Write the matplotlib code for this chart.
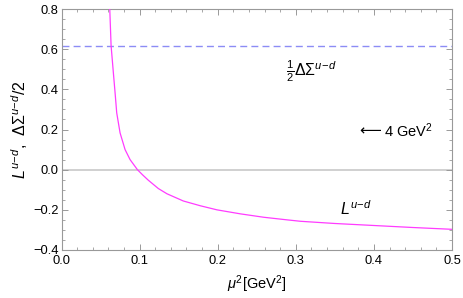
import matplotlib
matplotlib.use("Agg")
import matplotlib.pyplot as plt
from matplotlib.ticker import MultipleLocator

plt.rcParams['font.family'] = ['Liberation Sans', 'DejaVu Sans']
plt.rcParams['mathtext.fontset'] = 'custom'
plt.rcParams['mathtext.rm'] = 'Liberation Sans'
plt.rcParams['mathtext.it'] = 'Liberation Sans:italic'
plt.rcParams['mathtext.bf'] = 'Liberation Sans:bold'

# Data
mu2 = [0.0618, 0.0635, 0.0664, 0.0686, 0.0707, 0.0750, 0.0814, 0.0878, 0.0972,
       0.1036, 0.111, 0.124, 0.135, 0.156, 0.178, 0.199, 0.229, 0.259, 0.289,
       0.306, 0.350, 0.400, 0.450, 0.500]
L_ud = [0.80, 0.617, 0.483, 0.383, 0.283, 0.183, 0.100, 0.050, 0.0,
        -0.025, -0.052, -0.094, -0.120, -0.156, -0.18, -0.20, -0.22, -0.237, -0.250,
        -0.257, -0.268, -0.278, -0.288, -0.297]
half_dSigma = 0.615

x_ticks = [0.0, 0.1, 0.2, 0.3, 0.4, 0.5]
y_ticks = [-0.4, -0.2, 0.0, 0.2, 0.4, 0.6, 0.8]

fig = plt.figure(figsize=(4.63, 2.98), dpi=100)
ax = fig.add_axes([61.5/463, 1-250/298, (452-61.5)/463, (250-9)/298])

ax.axhline(0.0, color='#c8c8c8', lw=1.2, zorder=1)
ax.axhline(half_dSigma, color='#8c8cf5', lw=1.0, ls=(0, (5, 3)), zorder=2)
ax.plot(mu2, L_ud, color='#ff3cff', lw=0.9, zorder=3)

ax.set_xlim(0, 0.5)
ax.set_ylim(-0.4, 0.8)
ax.set_xticks(x_ticks)
ax.set_yticks(y_ticks)
ax.set_xticklabels([f"{t:.1f}" for t in x_ticks])
ax.set_yticklabels([f"{t:.1f}".replace('-', '\u2212') for t in y_ticks])
ax.xaxis.set_minor_locator(MultipleLocator(0.02))
ax.yaxis.set_minor_locator(MultipleLocator(0.05))
ax.tick_params(which='both', direction='in', top=True, right=True, color='#999999',
               labelsize=9.3, labelcolor='black', pad=2)
ax.tick_params(axis='x', which='major', pad=3.5)
ax.tick_params(which='major', length=4, width=0.7)
ax.tick_params(which='minor', length=2.2, width=0.6)
for s in ax.spines.values():
    s.set_color('#999999')
    s.set_linewidth(0.8)

ax.set_xlabel(r'$\mu^2$[GeV$^2$]', fontsize=10.5, labelpad=5)
ax.set_ylabel(r'$L^{u\!-\!d}$,  $\Delta\Sigma^{u\!-\!d}/2$', fontsize=11.5, labelpad=2)

ax.text(0.287, 0.49, r'$\frac{1}{2}\Delta\Sigma^{u\!-\!d}$', fontsize=11.5, va='center', ha='left')
ax.text(0.381, 0.195, '\u27f5', fontsize=11, va='center', ha='left',
        family=['DejaVu Sans'])
ax.text(0.413, 0.195, r'4 GeV$^2$', fontsize=10.5, va='center', ha='left')
ax.text(0.356, -0.195, r'$L^{u\!-\!d}$', fontsize=11.5, va='center', ha='left')

fig.savefig('out.png', dpi=100)
